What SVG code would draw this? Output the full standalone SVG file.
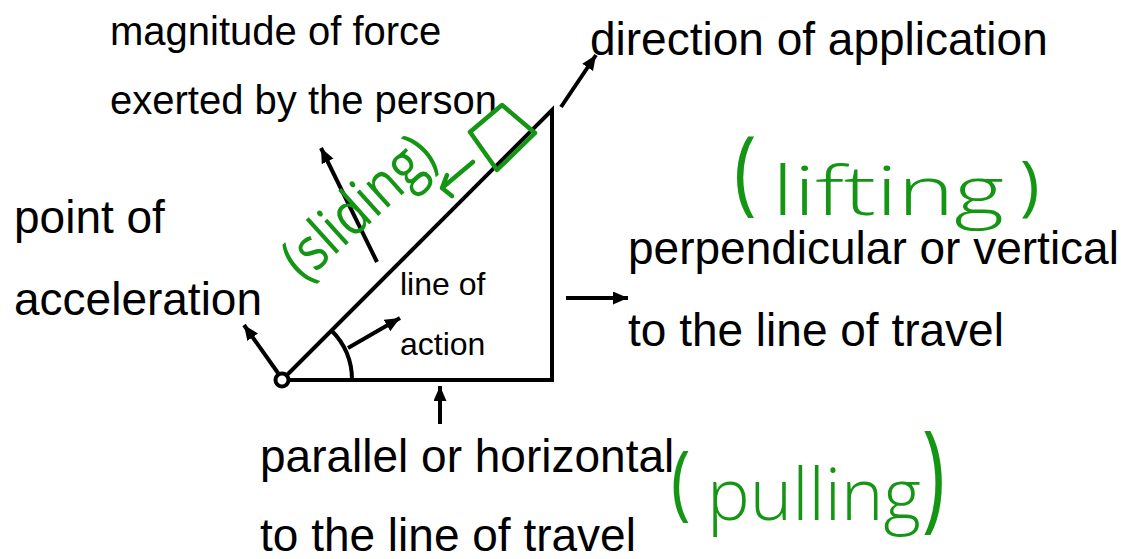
<svg xmlns="http://www.w3.org/2000/svg" width="1126" height="559" viewBox="0 0 1126 559">
<style>
.t{font-family:"Liberation Sans",Arial,sans-serif;fill:#000}
.big{font-size:46px}
.mid{font-size:40px}
.sm{font-size:32px}
.hw{font-family:"Open Sans","DejaVu Sans",sans-serif;font-weight:300;fill:#149614}
.hw4{font-weight:400}
.ln{stroke:#000;stroke-width:4;fill:none;stroke-linecap:butt}
.ar{stroke:#000;stroke-width:4;fill:none;marker-end:url(#ah)}
.gr{stroke:#149614;stroke-width:4.5;fill:none;stroke-linecap:round;stroke-linejoin:round}
</style>
<defs>
<marker id="ah" markerUnits="userSpaceOnUse" markerWidth="17" markerHeight="14" refX="15" refY="6.5" orient="auto">
<path d="M0,0 L15,6.5 L0,13 Z" fill="#000"/>
</marker>
</defs>
<rect width="1126" height="559" fill="#fff"/>

<g id="triangle">
<path class="ln" d="M282,380 L552,110 L552,380 Z" stroke-linejoin="miter"/>
<path class="ln" d="M331.5,330.5 A70,70 0 0 1 352,380"/>
<circle cx="282" cy="380" r="6.5" fill="#fff" stroke="#000" stroke-width="4"/>
</g>

<g id="connectors">
<line class="ar" x1="377" y1="262" x2="321" y2="148"/>
<line class="ar" x1="348" y1="348" x2="400" y2="318"/>
<line class="ar" x1="278" y1="373" x2="244" y2="325"/>
<line class="ar" x1="561" y1="107" x2="596" y2="55"/>
<line class="ar" x1="440" y1="424" x2="440" y2="386"/>
<line class="ar" x1="566" y1="298" x2="628" y2="298"/>
</g>

<g id="magnitude">
<text class="t mid" x="110" y="45">magnitude of force</text>
<text class="t mid" x="110" y="114">exerted by the person</text>
</g>
<g id="direction">
<text class="t big" x="590" y="55">direction of application</text>
</g>
<g id="point">
<text class="t big" x="14" y="233">point of</text>
<text class="t big" x="14" y="315">acceleration</text>
</g>
<g id="line-of-action">
<text class="t sm" x="400" y="295">line of</text>
<text class="t sm" x="400" y="355">action</text>
</g>
<g id="perpendicular">
<text class="t big" x="628" y="264">perpendicular or vertical</text>
<text class="t big" x="628" y="346">to the line of travel</text>
</g>
<g id="parallel">
<text class="t big" x="260" y="472">parallel or horizontal</text>
<text class="t big" x="260" y="551">to the line of travel</text>
</g>

<g id="sliding">
<path class="gr" d="M470,132 L502,105 L535,133 L497,170 Z"/>
<path class="gr" d="M473,162 L442,188 M447,175 L442,188 L452,196"/>
<text class="hw hw4" font-size="60" transform="translate(304,283) rotate(-42)" textLength="182" lengthAdjust="spacingAndGlyphs">(sliding)</text>
</g>
<g id="lifting">
<text class="hw hw4" font-size="72" transform="translate(734,203) scale(1.05,1.3)">(</text>
<text class="hw" font-size="68" x="772" y="215" textLength="232" lengthAdjust="spacingAndGlyphs">lifting</text>
<text class="hw hw4" font-size="66" transform="translate(1020,208)">)</text>
</g>
<g id="pulling">
<text class="hw hw4" font-size="66" transform="translate(671,510) scale(1,1.25)">(</text>
<text class="hw" font-size="72" x="707" y="520" textLength="214" lengthAdjust="spacingAndGlyphs">pulling</text>
<text class="hw hw4" font-size="74" transform="translate(922,516) scale(1.05,1.6)">)</text>
</g>
</svg>
